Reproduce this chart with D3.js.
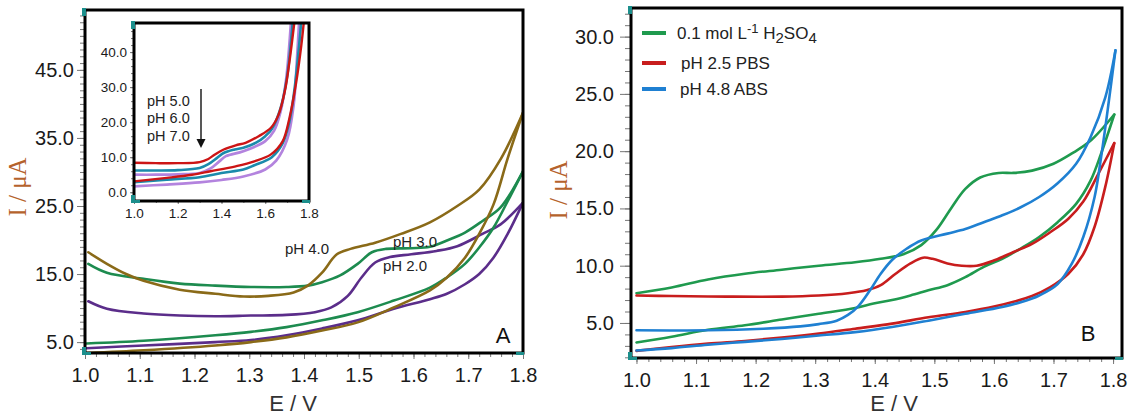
<!DOCTYPE html>
<html><head><meta charset="utf-8">
<script src="https://cdn.jsdelivr.net/npm/d3@7"></script>
<style>body{margin:0;background:#fff}svg{display:block}</style>
</head><body><svg id="c" width="1138" height="420"></svg>
<script>
// ---------- DATA (E / V, I / µA) ----------
// Panel A
const aPH4Fwd = [[1.006,18.2],[1.04,16.5],[1.075,15.0],[1.107,14.0],[1.173,12.7],[1.238,12.1],[1.29,11.7],[1.335,11.8],[1.381,12.3],[1.407,13.3],[1.433,15.2],[1.46,17.9],[1.485,18.7],[1.53,19.6],[1.577,20.9],[1.63,22.6],[1.68,25.0],[1.72,27.4],[1.76,32.0],[1.8,38.7]];
const aPH4Rev = [[1.8,38.7],[1.772,32.0],[1.746,25.2],[1.72,20.9],[1.694,17.4],[1.661,14.5],[1.63,12.6],[1.564,10.1],[1.498,7.9],[1.433,6.7],[1.368,5.7],[1.303,5.0],[1.238,4.5],[1.107,3.8],[1.003,3.4]];
const aPH3Fwd = [[1.006,16.5],[1.04,15.2],[1.107,14.3],[1.173,13.6],[1.238,13.3],[1.303,13.1],[1.368,13.1],[1.407,13.3],[1.433,13.8],[1.466,14.8],[1.498,16.5],[1.524,18.2],[1.55,18.7],[1.596,18.8],[1.63,19.0],[1.66,19.9],[1.694,21.1],[1.726,22.8],[1.759,24.8],[1.8,30.1]];
const aPH3Rev = [[1.8,30.1],[1.772,25.7],[1.746,21.8],[1.72,18.9],[1.694,16.5],[1.661,14.5],[1.63,13.0],[1.564,11.1],[1.498,9.4],[1.433,8.2],[1.368,7.2],[1.303,6.5],[1.238,6.0],[1.107,5.2],[1.003,4.8]];
const aPH2Fwd = [[1.006,11.0],[1.04,9.9],[1.107,9.2],[1.173,8.9],[1.238,8.8],[1.303,8.9],[1.368,9.0],[1.42,9.4],[1.45,10.1],[1.48,11.8],[1.505,14.5],[1.53,16.7],[1.557,17.5],[1.596,17.9],[1.642,18.4],[1.68,19.1],[1.726,20.9],[1.759,22.3],[1.8,25.5]];
const aPH2Rev = [[1.8,25.5],[1.772,20.9],[1.746,17.4],[1.72,15.0],[1.694,13.5],[1.661,12.1],[1.63,11.3],[1.564,9.9],[1.498,8.2],[1.433,7.0],[1.368,6.0],[1.303,5.3],[1.238,5.0],[1.107,4.5],[1.003,4.1]];
// Inset
const iPH5Fwd = [[1.0,8.4],[1.1,8.3],[1.2,8.3],[1.3,8.6],[1.34,9.5],[1.37,10.8],[1.41,12.2],[1.465,13.4],[1.51,14.1],[1.57,16.0],[1.626,18.4],[1.66,22],[1.69,29],[1.71,37],[1.734,49]];
const iPH5Rev = [[1.777,49],[1.765,42],[1.74,30.8],[1.71,21],[1.68,14.6],[1.626,10.8],[1.55,8.8],[1.465,7.4],[1.35,6.0],[1.265,5.0],[1.15,4.1],[1.0,3.1]];
const iPH6Fwd = [[1.0,6.2],[1.1,6.2],[1.2,6.3],[1.3,6.9],[1.34,8.0],[1.38,9.8],[1.41,11.2],[1.46,12.2],[1.5,12.7],[1.56,14.2],[1.6,16.0],[1.63,18],[1.67,24],[1.7,33],[1.726,49]];
const iPH6Rev = [[1.765,49],[1.755,42],[1.735,30],[1.71,20],[1.68,14],[1.63,10],[1.55,7.7],[1.5,6.5],[1.4,5.5],[1.3,4.3],[1.15,3.6],[1.0,2.9]];
const iPH7Fwd = [[1.0,5.0],[1.1,5.0],[1.2,5.1],[1.3,5.5],[1.35,6.8],[1.39,8.8],[1.42,10.3],[1.5,11.7],[1.6,14.6],[1.64,17.5],[1.67,23],[1.695,32],[1.718,49]];
const iPH7Rev = [[1.755,49],[1.745,38],[1.73,25],[1.7,15],[1.65,9],[1.6,6.5],[1.5,4.5],[1.4,3.5],[1.3,2.8],[1.15,2.2],[1.0,1.7]];
// Panel B
const bH2SO4Fwd = [[1.0,7.6],[1.059,8.1],[1.12,8.8],[1.182,9.3],[1.244,9.65],[1.306,10.0],[1.367,10.3],[1.41,10.6],[1.448,11.0],[1.478,11.8],[1.503,13.1],[1.528,15.0],[1.552,16.7],[1.577,17.7],[1.608,18.1],[1.633,18.1],[1.664,18.3],[1.7,18.9],[1.731,19.8],[1.762,20.9],[1.802,23.2]];
const bH2SO4Rev = [[1.802,23.2],[1.78,19.8],[1.762,17.4],[1.738,15.4],[1.707,13.8],[1.676,12.5],[1.645,11.5],[1.614,10.6],[1.583,9.9],[1.552,9.0],[1.522,8.3],[1.49,7.85],[1.46,7.4],[1.429,7.0],[1.398,6.7],[1.367,6.3],[1.306,5.8],[1.244,5.3],[1.182,4.8],[1.12,4.4],[1.059,3.8],[1.0,3.3]];
const bPBSFwd = [[1.0,7.4],[1.059,7.35],[1.151,7.3],[1.244,7.3],[1.306,7.4],[1.355,7.6],[1.386,7.85],[1.41,8.3],[1.435,9.3],[1.46,10.2],[1.481,10.7],[1.497,10.6],[1.522,10.2],[1.546,10.0],[1.571,10.0],[1.602,10.5],[1.633,11.2],[1.664,11.9],[1.694,12.9],[1.725,14.1],[1.75,15.6],[1.775,18.0],[1.802,20.7]];
const bPBSRev = [[1.802,20.7],[1.787,16.9],[1.769,13.4],[1.75,11.0],[1.725,9.3],[1.694,8.1],[1.664,7.35],[1.633,6.85],[1.602,6.45],[1.552,5.96],[1.49,5.5],[1.429,4.94],[1.367,4.5],[1.306,4.07],[1.244,3.72],[1.182,3.43],[1.12,3.2],[1.059,2.9],[1.0,2.56]];
const bABSFwd = [[1.0,4.36],[1.12,4.36],[1.213,4.5],[1.275,4.7],[1.306,4.9],[1.336,5.2],[1.355,5.7],[1.373,6.5],[1.392,7.85],[1.41,9.3],[1.429,10.5],[1.454,11.5],[1.478,12.2],[1.522,12.8],[1.552,13.2],[1.583,13.8],[1.614,14.4],[1.645,15.1],[1.676,16.0],[1.707,17.2],[1.738,18.9],[1.762,21.2],[1.787,24.7],[1.804,28.8]];
const bABSRev = [[1.804,28.8],[1.793,24.4],[1.78,19.5],[1.769,16.0],[1.75,12.5],[1.731,10.2],[1.707,8.4],[1.676,7.4],[1.645,6.8],[1.614,6.4],[1.552,5.8],[1.49,5.2],[1.429,4.65],[1.367,4.2],[1.306,3.9],[1.244,3.6],[1.182,3.35],[1.12,3.1],[1.059,2.8],[1.0,2.6]];

const aLabels = ["pH 4.0","pH 3.0","pH 2.0"];
const insetLabels = ["pH 5.0","pH 6.0","pH 7.0"];
const legendLabels = ["pH 2.5 PBS","pH 4.8 ABS"];
const aYTicks = [5,15,25,35,45];
const bYTicks = [5,10,15,20,25,30];
const insetYTicks = [0,10,20,30,40];
const xTicks = [1.0,1.1,1.2,1.3,1.4,1.5,1.6,1.7,1.8];
const insetXTicks = [1.0,1.2,1.4,1.6,1.8];

// ---------- DRAW ----------
const svg = d3.select('#c');
const FONT = '"Liberation Sans", Arial, sans-serif';
const fmt = d3.format('.1f');

const xA = d3.scaleLinear().domain([1.0,1.8]).range([85,523]);
const yA = d3.scaleLinear().domain([3.4,53.8]).range([353,10]);
const xI = d3.scaleLinear().domain([1.0,1.8]).range([134,309]);
const yI = d3.scaleLinear().domain([-2.5,48.3]).range([201,23]);
const xB = d3.scaleLinear().domain([0.9908,1.815]).range([631,1122]);
const yB = d3.scaleLinear().domain([1.94,32.5]).range([358,8]);

let clipN = 0;
function clip(x,y){
  const id='clip'+(clipN++);
  svg.append('clipPath').attr('id',id).append('rect')
    .attr('x',x.range()[0]).attr('y',y.range()[1])
    .attr('width',x.range()[1]-x.range()[0]).attr('height',y.range()[0]-y.range()[1]);
  return 'url(#'+id+')';
}

function axes(x,y,o){
  const [x0,x1]=x.range(); const [y0,y1]=y.range();
  const gym = svg.append('g').attr('transform',`translate(${x0},0)`)
    .call(d3.axisLeft(y).tickValues(o.yMinor).tickSize(o.yMinLen).tickFormat(''));
  gym.select('.domain').remove();
  gym.selectAll('line').attr('stroke','#777');
  const gy = svg.append('g').attr('transform',`translate(${x0},0)`)
    .call(d3.axisLeft(y).tickValues(o.yMajor).tickSize(o.yMajLen).tickPadding(o.yPad).tickFormat(fmt));
  gy.select('.domain').remove();
  gy.selectAll('line').attr('stroke','#777');
  gy.selectAll('text').attr('font-size',o.fs).attr('font-family',FONT).attr('fill','#1a1a1a');
  const gxm = svg.append('g').attr('transform',`translate(0,${y0})`)
    .call(d3.axisBottom(x).tickValues(o.xMinor).tickSize(o.xMinLen).tickFormat(''));
  gxm.select('.domain').remove();
  gxm.selectAll('line').attr('stroke','#777');
  const gx = svg.append('g').attr('transform',`translate(0,${y0})`)
    .call(d3.axisBottom(x).tickValues(o.xMajor).tickSize(o.xMajLen).tickPadding(o.xPad).tickFormat(fmt));
  gx.select('.domain').remove();
  gx.selectAll('line').attr('stroke','#777');
  gx.selectAll('text').attr('font-size',o.fs).attr('font-family',FONT).attr('fill','#1a1a1a');
}

function frame(x,y,w){
  const [x0,x1]=x.range(); const [y0,y1]=y.range();
  svg.append('rect').attr('x',x0).attr('y',y1).attr('width',x1-x0).attr('height',y0-y1)
    .attr('fill','none').attr('stroke','#000').attr('stroke-width',w);
  const teal='#1c8f8c';
  svg.append('rect').attr('x',x0-3).attr('y',y1-2).attr('width',4).attr('height',8).attr('fill',teal);
  svg.append('rect').attr('x',x0-3).attr('y',y0-6).attr('width',4).attr('height',8).attr('fill',teal);
  svg.append('rect').attr('x',x0-2).attr('y',y0-1).attr('width',8).attr('height',3).attr('fill',teal);
  svg.append('rect').attr('x',x1-7).attr('y',y0-1).attr('width',8).attr('height',3).attr('fill',teal);
}

function loop(x,y,fwd,rev,color,w,cp){
  const line = d3.line().x(d=>x(d[0])).y(d=>y(d[1])).curve(d3.curveCatmullRom.alpha(0.5));
  const g = svg.append('g').attr('clip-path',cp);
  [fwd,rev].forEach(s=>g.append('path').attr('d',line(s)).attr('fill','none')
    .attr('stroke',color).attr('stroke-width',w).attr('stroke-linejoin','round').attr('stroke-linecap','round'));
}

// ----- Panel A -----
svg.append('rect').attr('x',85).attr('y',10).attr('width',438).attr('height',343).attr('fill','#fff');
axes(xA,yA,{yMinor:d3.range(4,54,1),yMajor:aYTicks,yMinLen:5,yMajLen:8,yPad:3,
  xMinor:d3.range(0,41).map(i=>1+i*0.02),xMajor:xTicks,xMinLen:4,xMajLen:6,xPad:9,fs:20});
const cpA = clip(xA,yA);
const colGold='#8a6a18', colGreenA='#1d8b4f', colPurple='#5b2d8a';
loop(xA,yA,aPH2Fwd,aPH2Rev,colPurple,2.6,cpA);
loop(xA,yA,aPH3Fwd,aPH3Rev,colGreenA,2.6,cpA);
loop(xA,yA,aPH4Fwd,aPH4Rev,colGold,2.6,cpA);
frame(xA,yA,3);

const aLabPos=[[307,249],[415,242],[405,266]];
aLabels.forEach((t,i)=>svg.append('text').attr('x',aLabPos[i][0]).attr('y',aLabPos[i][1]).attr('dy','0.35em')
  .attr('text-anchor','middle').attr('font-family',FONT).attr('font-size',15).attr('fill','#222').text(t));
svg.append('text').attr('x',503).attr('y',335).attr('dy','0.35em').attr('text-anchor','middle')
  .attr('font-family',FONT).attr('font-size',22).attr('fill','#111').text('A');

// Inset
svg.append('rect').attr('x',134).attr('y',23).attr('width',175).attr('height',178).attr('fill','#fff');
axes(xI,yI,{yMinor:d3.range(-2,49,2),yMajor:insetYTicks,yMinLen:3,yMajLen:4,yPad:3,
  xMinor:d3.range(0,9).map(i=>1+i*0.1),xMajor:insetXTicks,xMinLen:2,xMajLen:3,xPad:4,fs:13.5});
const cpI = clip(xI,yI);
loop(xI,yI,iPH7Fwd,iPH7Rev,'#b383de',2.7,cpI);
loop(xI,yI,iPH6Fwd,iPH6Rev,'#1b8aab',2.6,cpI);
loop(xI,yI,iPH5Fwd,iPH5Rev,'#cc1515',2.4,cpI);
frame(xI,yI,3);
const insY=[101,118,136];
insetLabels.forEach((t,i)=>svg.append('text').attr('x',147).attr('y',insY[i]).attr('dy','0.35em')
  .attr('font-family',FONT).attr('font-size',14.5).attr('fill','#222').text(t));
svg.append('line').attr('x1',201).attr('x2',201).attr('y1',89).attr('y2',141).attr('stroke','#111').attr('stroke-width',1.4);
svg.append('path').attr('d','M196.5,139 L205.5,139 L201,148 Z').attr('fill','#111');

// Axis titles A
svg.append('text').attr('transform','translate(26,187) rotate(-90)').attr('text-anchor','middle')
  .attr('font-family','"Liberation Serif", "Times New Roman", serif').attr('font-size',25).attr('fill','#b5622c').text('I / μA');
svg.append('text').attr('x',293).attr('y',403).attr('dy','0.35em').attr('text-anchor','middle')
  .attr('font-family',FONT).attr('font-size',22).attr('fill','#333').text('E / V');

// ----- Panel B -----
svg.append('rect').attr('x',631).attr('y',8).attr('width',491).attr('height',350).attr('fill','#fff');
axes(xB,yB,{yMinor:d3.range(2,33,1),yMajor:bYTicks,yMinLen:6,yMajLen:11,yPad:6,
  xMinor:d3.range(0,41).map(i=>1+i*0.02),xMajor:xTicks,xMinLen:4,xMajLen:6,xPad:9,fs:20});
const cpB = clip(xB,yB);
const colGreenB='#1f9a4e', colRed='#c81d1d', colBlue='#1f80d2';
loop(xB,yB,bH2SO4Fwd,bH2SO4Rev,colGreenB,2.6,cpB);
loop(xB,yB,bPBSFwd,bPBSRev,colRed,2.6,cpB);
loop(xB,yB,bABSFwd,bABSRev,colBlue,2.6,cpB);
frame(xB,yB,3);

// Legend
const legCols=[colGreenB,colRed,colBlue];
const legY=[33,63,89];
legCols.forEach((c,i)=>svg.append('line').attr('x1',642).attr('x2',666).attr('y1',legY[i]).attr('y2',legY[i])
  .attr('stroke',c).attr('stroke-width',4));
const t0 = svg.append('text').attr('x',677).attr('y',legY[0]).attr('dy','0.35em')
  .attr('font-family',FONT).attr('font-size',17).attr('fill','#222');
t0.append('tspan').text('0.1 mol L');
t0.append('tspan').attr('baseline-shift','45%').attr('font-size',13).text('-1');
t0.append('tspan').text(' H');
t0.append('tspan').attr('baseline-shift','-25%').attr('font-size',15).text('2');
t0.append('tspan').text('SO');
t0.append('tspan').attr('baseline-shift','-25%').attr('font-size',15).text('4');
const legX=[681,680];
legendLabels.forEach((t,i)=>svg.append('text').attr('x',legX[i]).attr('y',legY[i+1]).attr('dy','0.35em')
  .attr('font-family',FONT).attr('font-size',17).attr('fill','#222').text(t));

svg.append('text').attr('x',1088).attr('y',333).attr('dy','0.35em').attr('text-anchor','middle')
  .attr('font-family',FONT).attr('font-size',22).attr('fill','#111').text('B');

svg.append('text').attr('transform','translate(567,190) rotate(-90)').attr('text-anchor','middle')
  .attr('font-family','"Liberation Serif", "Times New Roman", serif').attr('font-size',25).attr('fill','#b5622c').text('I / μA');
svg.append('text').attr('x',894).attr('y',403).attr('dy','0.35em').attr('text-anchor','middle')
  .attr('font-family',FONT).attr('font-size',22).attr('fill','#333').text('E / V');
</script></body></html>
